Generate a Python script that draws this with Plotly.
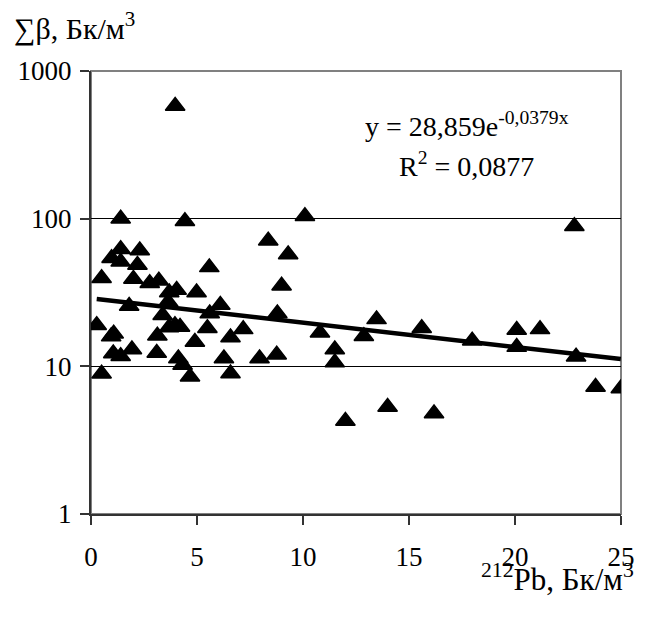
import numpy as np
import plotly.graph_objects as go

# Data
pb212 = [0.27, 0.5, 0.5, 0.95, 1.07, 0.97, 1.05, 1.4, 1.4, 1.4, 1.4, 1.8, 1.93, 2.0, 2.19, 2.3,
         2.77, 3.1, 3.13, 3.2, 3.38, 3.64, 3.68, 3.69, 3.96, 3.97, 4.04, 4.12, 4.2, 4.32, 4.43,
         4.67, 4.9, 4.98, 5.49, 5.58, 5.6, 6.1, 6.27, 6.58, 6.58, 7.18, 7.95, 8.36, 8.76, 8.79,
         8.99, 9.3, 10.09, 10.8, 11.5, 11.5, 12.0, 12.87, 13.47, 13.99, 15.6, 16.18, 17.98,
         20.08, 20.08, 21.18, 22.8, 22.88, 23.8, 24.99]
sum_beta = [19.0, 8.9, 39.5, 15.9, 16.6, 53.9, 12.2, 100, 62, 51, 11.7, 25.6, 13.0, 39, 48.5, 60.8,
            36.6, 12.3, 16.1, 38, 22.2, 27.3, 18.3, 31.6, 19.0, 580, 32.9, 11.3, 18.5, 10.2, 96,
            8.5, 14.6, 31.6, 18.1, 46.8, 22.8, 26, 11.3, 15.7, 8.95, 17.8, 11.3, 71, 12.0, 22.8,
            35.2, 57.3, 104, 16.9, 13.0, 10.6, 4.27, 16.0, 20.8, 5.3, 18.1, 4.8, 14.9,
            17.6, 13.5, 17.8, 89, 11.6, 7.25, 7.07]

# Trend line coefficients (exponential fit shown on chart)
TREND_A = 28.859
TREND_B = -0.0379
x_ticks = [0, 5, 10, 15, 20, 25]
y_ticks = [1, 10, 100, 1000]

trend_x = np.linspace(min(pb212), max(pb212), 60)
trend_y = TREND_A * np.exp(TREND_B * trend_x)

FONT = "Liberation Serif"

fig = go.Figure()
fig.add_trace(go.Scatter(
    x=trend_x, y=trend_y, mode="lines",
    line=dict(color="black", width=4.5), hoverinfo="skip", showlegend=False))
fig.add_trace(go.Scatter(
    x=pb212, y=sum_beta, mode="markers",
    marker=dict(symbol="triangle-up", size=17, color="black",
                line=dict(color="black", width=1.5)),
    showlegend=False))

# page body has an 8px margin: plot area at page x 91..621, y 71..514
fig.update_layout(
    width=632, height=604,
    margin=dict(l=83, r=19, t=63, b=98),
    paper_bgcolor="white", plot_bgcolor="white",
    font=dict(family=FONT, size=27, color="black"),
    showlegend=False,
    shapes=[dict(type="rect", xref="paper", yref="paper", x0=0, x1=1, y0=0, y1=1,
                 line=dict(color="#808080", width=2), layer="below")],
    xaxis=dict(range=[0, 25], tickvals=x_ticks, ticktext=[str(v) for v in x_ticks],
               showgrid=False, zeroline=False, showline=True, linecolor="#333333", linewidth=2,
               ticks="outside", ticklen=9, tickwidth=1.5, tickcolor="#333333",
               ticklabelstandoff=9, automargin=False,
               tickfont=dict(family=FONT, size=27, color="black")),
    yaxis=dict(type="log", range=[0, 3], tickvals=y_ticks, ticktext=[str(v) for v in y_ticks],
               showgrid=True, gridcolor="black", gridwidth=1, zeroline=False,
               showline=True, linecolor="#333333", linewidth=2,
               ticks="outside", ticklen=9, tickwidth=1.5, tickcolor="#333333",
               ticklabelstandoff=3, automargin=False,
               tickfont=dict(family=FONT, size=27, color="black")),
    annotations=[
        dict(text="∑β, Бк/м<sup>3</sup>", xref="paper", yref="paper",
             x=(12 - 91) / 530, y=(514 - 27) / 443, xanchor="left", yanchor="middle",
             showarrow=False, font=dict(family=FONT, size=30)),
        dict(text="<sup>212</sup>Pb, Бк/м<sup>3</sup>", xref="paper", yref="paper",
             x=(636 - 91) / 530, y=(514 - 577) / 443, xanchor="right", yanchor="middle",
             showarrow=False, font=dict(family=FONT, size=31)),
        dict(text="y = 28,859e<sup>-0,0379x</sup>", xref="paper", yref="paper",
             x=(467 - 91) / 530, y=(514 - 124) / 443, xanchor="center", yanchor="middle",
             showarrow=False, font=dict(family=FONT, size=28)),
        dict(text="R<sup>2</sup> = 0,0877", xref="paper", yref="paper",
             x=(466 - 91) / 530, y=(514 - 164) / 443, xanchor="center", yanchor="middle",
             showarrow=False, font=dict(family=FONT, size=28)),
    ],
)

fig.write_html("out.html")
